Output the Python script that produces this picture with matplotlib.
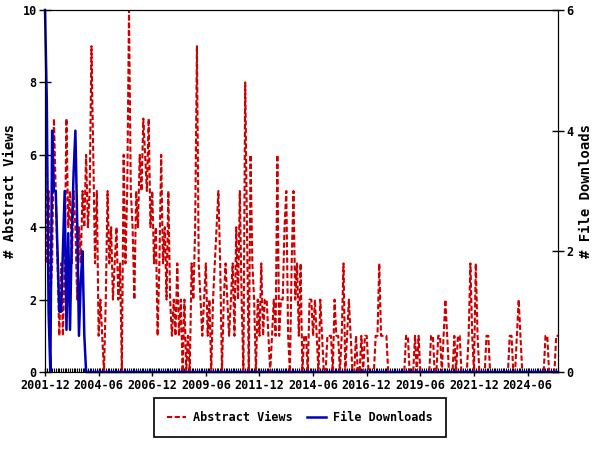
import numpy as np
import matplotlib
matplotlib.use("Agg")
import matplotlib.pyplot as plt
from matplotlib.ticker import MultipleLocator

# monthly counts, starting 2001-12
abstract_views = [
    7, 3, 5, 2, 3, 7, 5, 3, 1, 3, 1, 3, 7, 4, 5, 3, 5, 4, 2, 4,
    3, 5, 4, 6, 4, 5, 9, 6, 3, 5, 1, 2, 1, 0, 2, 5, 3, 4, 2, 3,
    4, 2, 3, 0, 6, 3, 5, 10, 5, 4, 2, 5, 4, 6, 5, 7, 6, 5, 7, 4,
    5, 3, 4, 1, 3, 6, 3, 4, 2, 5, 2, 1, 2, 1, 3, 1, 2, 0, 2, 0,
    1, 0, 3, 2, 4, 9, 3, 2, 1, 2, 3, 1, 2, 0, 2, 3, 4, 5, 3, 0,
    2, 3, 2, 1, 2, 3, 1, 4, 2, 5, 2, 0, 8, 4, 0, 6, 3, 2, 0, 2,
    1, 3, 1, 2, 2, 1, 0, 1, 2, 1, 6, 1, 2, 2, 4, 5, 1, 0, 3, 5,
    2, 3, 1, 3, 0, 1, 1, 0, 2, 2, 1, 2, 1, 0, 2, 1, 0, 0, 1, 1,
    1, 0, 2, 1, 1, 0, 1, 3, 0, 1, 2, 1, 0, 0, 1, 0, 0, 1, 0, 1,
    1, 0, 0, 0, 0, 1, 1, 3, 1, 1, 1, 1, 0, 0, 0, 0, 0, 0, 0, 0,
    0, 0, 1, 1, 0, 0, 0, 1, 0, 1, 0, 0, 0, 0, 0, 0, 1, 1, 0, 0,
    1, 1, 0, 1, 2, 1, 0, 0, 0, 1, 0, 1, 1, 0, 0, 0, 0, 1, 3, 1,
    0, 3, 1, 0, 0, 0, 0, 1, 1, 0, 0, 0, 0, 0, 0, 0, 0, 0, 0, 0,
    1, 1, 0, 0, 1, 2, 1, 0, 0, 0, 0, 0, 0, 0, 0, 0, 0, 0, 0, 0,
    1, 1, 0, 0, 0, 0, 1, 1,
]
file_downloads = [
    6, 4.5, 1, 0, 4, 3, 3, 2, 1, 1, 2, 3, 0.7, 2.3, 0.7, 2.3,
    3.3, 4, 2.5, 0.6, 1.5, 2, 0.6,
]
file_downloads = file_downloads + [0] * (len(abstract_views) - len(file_downloads))

tick_labels = ['2001-12', '2004-06', '2006-12', '2009-06', '2011-12',
               '2014-06', '2016-12', '2019-06', '2021-12', '2024-06']

months = np.arange(len(abstract_views))
font = {'family': 'DejaVu Sans Mono', 'weight': 'bold'}

fig = plt.figure(figsize=(6, 4.5), dpi=100)
ax = fig.add_axes([0.075, 0.1733, 0.855, 0.8045])
ax2 = ax.twinx()

ax.plot(months, abstract_views, color='#cc0000', lw=1.5, linestyle=(0, (2.5, 1.2)),
        label='Abstract Views')
ax2.plot(months, file_downloads, color='#0000bb', lw=1.8, label='File Downloads',
         clip_on=False)

ax.set_xlim(0, len(months) - 1)
ax.set_ylim(0, 10)
ax2.set_ylim(0, 6)
ax.set_yticks([0, 2, 4, 6, 8, 10])
ax2.set_yticks([0, 2, 4, 6])
ax.set_xticks(np.arange(0, 30 * len(tick_labels), 30))
ax.set_xticklabels(tick_labels)
ax.xaxis.set_minor_locator(MultipleLocator(1))

ax.tick_params(axis='x', which='major', direction='inout', length=6, width=1, pad=2)
ax.tick_params(axis='x', which='minor', direction='in', length=3, width=0.8)
ax.tick_params(axis='y', direction='inout', length=8, width=1, pad=2)
ax2.tick_params(axis='y', direction='inout', length=8, width=1, pad=2)

for lab in ax.get_xticklabels() + ax.get_yticklabels() + ax2.get_yticklabels():
    lab.set_fontfamily('DejaVu Sans Mono')
    lab.set_fontweight('bold')
    lab.set_fontsize(8.5)

ax.set_ylabel('# Abstract Views', fontsize=10, labelpad=4, **font)
ax2.set_ylabel('# File Downloads', fontsize=10, labelpad=4, **font)

h1, l1 = ax.get_legend_handles_labels()
h2, l2 = ax2.get_legend_handles_labels()
leg = fig.legend(h1 + h2, l1 + l2, loc='center', bbox_to_anchor=(0.5, 0.073), ncol=2,
                 fancybox=False, edgecolor='black', framealpha=1,
                 prop={'family': 'DejaVu Sans Mono', 'weight': 'bold', 'size': 8.5},
                 borderpad=1.1, columnspacing=1.2, handlelength=1.6, handletextpad=0.6)
leg.get_frame().set_linewidth(1.2)

fig.savefig('out.png', dpi=100)
